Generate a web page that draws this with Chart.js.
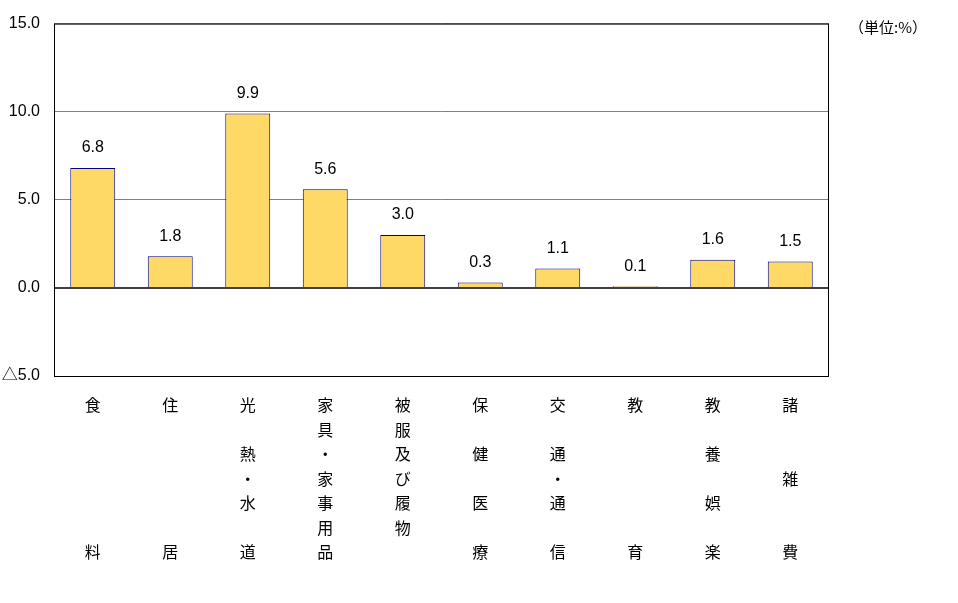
<!DOCTYPE html>
<html>
<head>
<meta charset="utf-8">
<script src="https://cdn.jsdelivr.net/npm/chart.js@4"></script>
<style>
html,body{margin:0;padding:0;background:#fff;}
#wrap{width:958px;height:603px;position:relative;}
</style>
</head>
<body>
<div id="wrap"><canvas id="c" width="958" height="603"></canvas></div>
<script>
const categories = [
  ["食","","","","","","料"],
  ["住","","","","","","居"],
  ["光","","熱","・","水","","道"],
  ["家","具","・","家","事","用","品"],
  ["被","服","及","び","履","物",""],
  ["保","","健","","医","","療"],
  ["交","","通","・","通","","信"],
  ["教","","","","","","育"],
  ["教","","養","","娯","","楽"],
  ["諸","","","雑","","","費"]
];
const values = [6.8, 1.8, 9.9, 5.6, 3.0, 0.3, 1.1, 0.1, 1.6, 1.5];
const yTickValues = [-5, 0, 5, 10, 15];
const yTickLabels = ["△5.0", "0.0", "5.0", "10.0", "15.0"];
const unitLabel = "（単位:%）";

const FONT = '"Liberation Sans", "Noto Sans CJK JP", sans-serif';
const CJK = '"Noto Sans CJK JP", sans-serif';

const overlay = {
  id: 'overlay',
  afterDatasetsDraw(chart) {
    const ctx = chart.ctx;
    const meta = chart.getDatasetMeta(0);
    ctx.save();
    ctx.fillStyle = '#000';
    ctx.font = '16px ' + FONT;
    ctx.textAlign = 'center';
    ctx.textBaseline = 'middle';
    meta.data.forEach((bar, i) => {
      ctx.fillText(values[i].toFixed(1), bar.x, bar.y - 20);
    });
    ctx.restore();
  },
  afterDraw(chart) {
    const ctx = chart.ctx;
    const a = chart.chartArea;
    ctx.save();
    ctx.strokeStyle = '#000';
    ctx.lineWidth = 1;
    ctx.strokeRect(a.left + 0.5, a.top + 0.5, a.right - a.left - 1, a.bottom - a.top);
    ctx.fillStyle = '#000';
    ctx.font = '15px ' + CJK;
    ctx.textAlign = 'left';
    ctx.textBaseline = 'middle';
    ctx.fillText(unitLabel, a.right + 20, a.top + 4);
    ctx.restore();
  }
};

new Chart(document.getElementById('c'), {
  type: 'bar',
  data: {
    labels: categories,
    datasets: [{
      data: values,
      backgroundColor: '#FFD966',
      borderColor: '#000080',
      borderWidth: 1,
      categoryPercentage: 1.0,
      barPercentage: 0.58
    }]
  },
  options: {
    responsive: false,
    animation: false,
    devicePixelRatio: 1,
    layout: { padding: { top: 23, right: 129, left: 0, bottom: 0 } },
    plugins: { legend: { display: false }, tooltip: { enabled: false }, title: { display: false } },
    scales: {
      x: {
        grid: { display: false, drawTicks: false },
        border: { display: false },
        ticks: {
          autoSkip: false, maxRotation: 0, minRotation: 0,
          color: '#000', padding: 17,
          font: { family: CJK, size: 16, lineHeight: 1.53 }
        },
        afterFit(s) { s.height = 227; }
      },
      y: {
        min: -5, max: 15,
        afterBuildTicks(s) { s.ticks = yTickValues.map(v => ({ value: v })); },
        grid: {
          drawTicks: false,
          color: c => c.tick && c.tick.value === 0 ? '#404040' : '#808080',
          lineWidth: c => c.tick && c.tick.value === 0 ? 2 : 1
        },
        border: { display: false },
        ticks: {
          color: '#000', padding: 14,
          font: { family: FONT, size: 16 },
          callback: (v) => { const i = yTickValues.indexOf(v); return i >= 0 ? yTickLabels[i] : ''; }
        },
        afterFit(s) { s.width = 54; }
      }
    }
  },
  plugins: [overlay]
});
</script>
</body>
</html>
